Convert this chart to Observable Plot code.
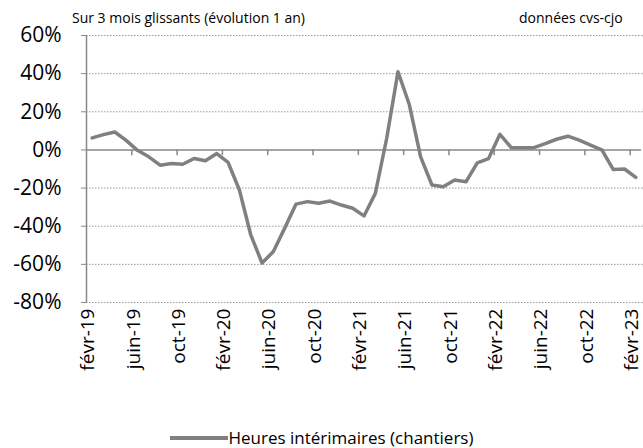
<!DOCTYPE html>
<html>
<head>
<meta charset="utf-8">
<script src="https://cdn.jsdelivr.net/npm/d3@7"></script>
<script src="https://cdn.jsdelivr.net/npm/@observablehq/plot@0.6"></script>
<style>
  html, body { margin: 0; padding: 0; background: #fff; }
  #wrap { position: relative; width: 643px; height: 448px; font-family: "Open Sans", sans-serif; overflow: hidden; }
  .lbl { position: absolute; color: #000; white-space: nowrap; line-height: 1; }
  #legend { position: absolute; left: 0; width: 643px; top: 428px; text-align: center; font-size: 17px; line-height: 18px; }
  #legend .sw { display: inline-block; width: 58px; height: 4px; background: #808080; vertical-align: middle; margin-right: 1px; }
</style>
</head>
<body>
<div id="wrap">
  <div id="chart"></div>
  <div class="lbl" style="left:72px; top:11px; font-size:14px;">Sur 3 mois glissants (évolution 1 an)</div>
  <div class="lbl" style="left:519px; top:11px; font-size:14px;">données cvs-cjo</div>
  <div id="legend"><span class="sw"></span><span style="vertical-align:middle">Heures intérimaires (chantiers)</span></div>
</div>
<script>
// Monthly values, févr-19 .. févr-23 (% evolution over 1 year, 3-month rolling)
const seriesName = "Heures intérimaires (chantiers)";
const values = [
  6.3, 8.0, 9.4, 5.0, -0.2, -3.6, -8.0, -7.1, -7.5, -4.5, -5.7, -1.9,
  -6.5, -21, -44.5, -59.3, -53.3, -41, -28.4, -27.1, -28, -26.8, -28.9, -30.6,
  -34.6, -22.8, 6, 41, 23.8, -3.6, -18.4, -19.3, -15.8, -16.7, -6.8, -4.5,
  8.2, 1.2, 1.2, 1.2, 3.3, 5.6, 7.2, 5.1, 2.5, 0, -10.2, -10,
  -14.4
];
const tickLabels = ["févr-19","juin-19","oct-19","févr-20","juin-20","oct-20","févr-21","juin-21","oct-21","févr-22","juin-22","oct-22","févr-23"];
const tickEvery = 4;
const yTicks = [-80, -60, -40, -20, 0, 20, 40, 60];

const data = values.map((v, i) => ({i, v}));
const labelPos = tickLabels.map((_, k) => k * tickEvery);
const boundaries = d3.range(1, tickLabels.length).map(k => k * tickEvery - 0.5);
const gridTicks = yTicks.filter(t => t !== 0);

const chart = Plot.plot({
  width: 643,
  height: 448,
  marginLeft: 86,
  marginRight: 2,
  marginTop: 35,
  marginBottom: 146,
  style: {fontFamily: "'Open Sans', sans-serif", background: "#fff", overflow: "visible"},
  x: {type: "linear", domain: [-0.5, values.length - 0.5]},
  y: {domain: [-80, 60]},
  marks: [
    Plot.ruleY(gridTicks, {stroke: "#999", strokeWidth: 1, strokeDasharray: "1.5,1.5", x1: -0.5, x2: values.length - 0.5, insetRight: -2}),
    Plot.axisY({ticks: yTicks, tickFormat: d => d + "%", tickSize: 5, tickPadding: 20, fontSize: 21, stroke: "#888", color: "#000", label: null}),
    Plot.axisX({ticks: labelPos, tickFormat: (d) => tickLabels[Math.round(d / tickEvery)], tickSize: 0, tickPadding: 6, tickRotate: -90, fontSize: 19, dx: -4, label: null}),
    Plot.ruleX([-0.5], {y1: -80, y2: 60, stroke: "#888", strokeWidth: 1.5}),
    Plot.ruleY([0], {stroke: "#888", strokeWidth: 1.5}),
    Plot.ruleX(boundaries, {y1: 0, y2: -3, stroke: "#888", strokeWidth: 1.5}),
    Plot.lineY(data, {x: "i", y: "v", stroke: "#808080", strokeWidth: 3.5, strokeLinejoin: "round"})
  ]
});
document.getElementById("chart").appendChild(chart);
</script>
</body>
</html>
